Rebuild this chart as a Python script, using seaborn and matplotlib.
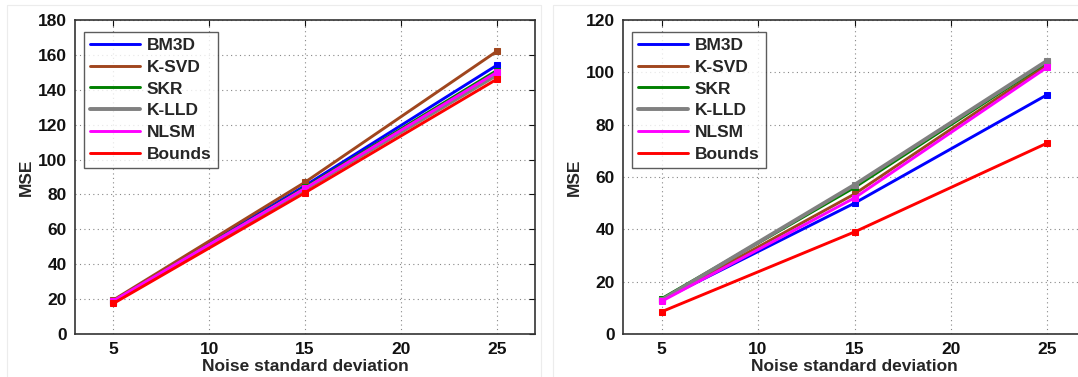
import matplotlib
matplotlib.use("Agg")
import matplotlib.pyplot as plt
import seaborn as sns
import pandas as pd
from matplotlib.lines import Line2D

noise = [5, 15, 25]
methods = ["BM3D", "K-SVD", "SKR", "K-LLD", "NLSM", "Bounds"]

left_bm3d = [19.0, 85.0, 154.0]
left_ksvd = [19.5, 87.0, 162.0]
left_skr = [18.5, 84.0, 151.0]
left_klld = [18.5, 83.0, 148.5]
left_nlsm = [19.0, 83.5, 150.0]
left_bounds = [17.5, 81.0, 146.0]

right_bm3d = [13.0, 50.0, 91.5]
right_ksvd = [13.0, 53.5, 103.0]
right_skr = [13.5, 56.0, 104.0]
right_klld = [13.0, 57.0, 104.5]
right_nlsm = [12.5, 52.0, 102.0]
right_bounds = [8.5, 39.0, 73.0]

colors = {"BM3D": "#0000ff", "K-SVD": "#a0461e", "SKR": "#008000",
          "K-LLD": "#808080", "NLSM": "#ff00ff", "Bounds": "#ff0000"}
widths = {"BM3D": 2.1, "K-SVD": 2.1, "SKR": 2.1, "K-LLD": 2.8, "NLSM": 2.1, "Bounds": 2.1}


def make_df(series):
    rows = []
    for m, vals in zip(methods, series):
        for x, v in zip(noise, vals):
            rows.append({"noise": x, "MSE": v, "method": m})
    return pd.DataFrame(rows)


df_left = make_df([left_bm3d, left_ksvd, left_skr, left_klld, left_nlsm, left_bounds])
df_right = make_df([right_bm3d, right_ksvd, right_skr, right_klld, right_nlsm, right_bounds])

sns.set_style("white")
plt.rcParams["font.family"] = ["Liberation Sans", "DejaVu Sans"]
plt.rcParams["font.weight"] = "bold"

W, H = 1078, 377
FS = 12.5
fig = plt.figure(figsize=(W / 100, H / 100), dpi=100)
fig.patch.set_facecolor("white")

# faint panel borders of the source images
for xs, ys in [([7 / W, 7 / W], [0, 1 - 5 / H]), ([7 / W, 541 / W], [1 - 5 / H, 1 - 5 / H]),
               ([541 / W, 541 / W], [0, 1 - 5 / H]), ([553 / W, 553 / W], [0, 1 - 5 / H]),
               ([553 / W, 1], [1 - 5 / H, 1 - 5 / H])]:
    fig.add_artist(Line2D(xs, ys, color="#ececec", lw=0.8, transform=fig.transFigure))


def draw(ax, df, ymax, yticks):
    for m in methods:
        sub = df[df["method"] == m]
        sns.lineplot(data=sub, x="noise", y="MSE", ax=ax, color=colors[m],
                     linewidth=widths[m], marker="s", markersize=4.5,
                     markeredgecolor=colors[m], label=m, errorbar=None)
    ax.set_xlim(3, 27)
    ax.set_ylim(0, ymax)
    ax.set_xticks([5, 10, 15, 20, 25])
    ax.set_yticks(yticks)
    ax.grid(True, linestyle=(0, (1, 3)), color="#888888", linewidth=0.8)
    ax.tick_params(direction="in", top=True, right=True, length=4, width=0.8,
                   labelsize=FS, colors="#111111", pad=6)
    for lab in ax.get_xticklabels() + ax.get_yticklabels():
        lab.set_fontweight("bold")
    for sp in ax.spines.values():
        sp.set_color("#333333")
        sp.set_linewidth(1.2)
        sp.set_visible(True)
    ax.set_xlabel("Noise standard deviation", fontsize=FS, fontweight="bold", labelpad=1)
    ax.set_ylabel("MSE", fontsize=FS, fontweight="bold", labelpad=3)
    leg = ax.legend(loc="upper left", bbox_to_anchor=(0.0, 0.99), fontsize=FS,
                    frameon=True, fancybox=False, handlelength=2.9, handletextpad=0.4,
                    labelspacing=0.38, borderpad=0.35, borderaxespad=0.5)
    leg.get_frame().set_edgecolor("#333333")
    leg.get_frame().set_linewidth(1.0)
    for t in leg.get_texts():
        t.set_fontweight("bold")
    for h in leg.get_lines():
        h.set_marker("")


ax1 = fig.add_axes([75 / W, 43 / H, 460 / W, 314 / H])
draw(ax1, df_left, 180, list(range(0, 181, 20)))

ax2 = fig.add_axes([623 / W, 43 / H, 463 / W, 314 / H])
draw(ax2, df_right, 120, list(range(0, 121, 20)))

fig.savefig("out.png", dpi=100, facecolor="white")
